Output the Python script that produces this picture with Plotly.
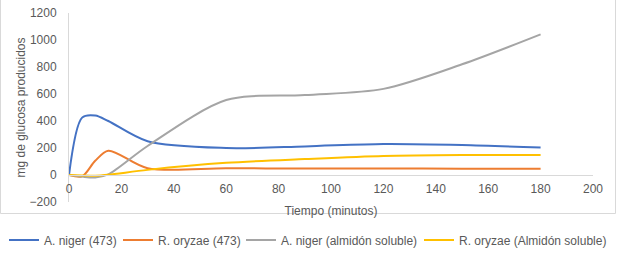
import plotly.graph_objects as go

tiempo = [0, 5, 10, 15, 30, 60, 90, 120, 150, 180]
niger_473 = [0, 425, 440, 400, 250, 200, 212, 230, 222, 203]
oryzae_473 = [0, -10, 105, 180, 50, 50, 48, 48, 47, 47]
niger_almidon = [0, -12, -18, 5, 215, 555, 592, 638, 820, 1042]
oryzae_almidon = [0, -3, -5, 2, 38, 90, 118, 141, 148, 149]

series = [
    ("A. niger (473)", niger_473, "#4472C4"),
    ("R. oryzae (473)", oryzae_473, "#ED7D31"),
    ("A. niger (almidón soluble)", niger_almidon, "#A5A5A5"),
    ("R. oryzae (Almidón soluble)", oryzae_almidon, "#FFC000"),
]

W, H = 617, 257
ml, mr, mt, mb = 69, 24, 13, 55
pw, ph = W - ml - mr, H - mt - mb
ymin, ymax = -200, 1200
zero_pos = (0 - ymin) / (ymax - ymin)

legend_names = ["legend", "legend2", "legend3", "legend4"]
legend_px = [4, 118, 241, 419]  # left edge of each legend box in pixels

fig = go.Figure()
for (name, vals, color), lg in zip(series, legend_names):
    fig.add_trace(go.Scatter(x=tiempo, y=vals, name=name, mode="lines", legend=lg,
                             line=dict(color=color, width=2, shape="spline", smoothing=0.85)))

legend_y = -(240 - mt - ph) / ph
legend_layout = {}
for lg, px in zip(legend_names, legend_px):
    legend_layout[lg] = dict(orientation="h", x=(px - ml) / pw, xanchor="left",
                             y=legend_y, yanchor="middle",
                             font=dict(size=12, color="#595959"), itemwidth=30,
                             bgcolor="rgba(0,0,0,0)", borderwidth=0)

fig.update_layout(
    width=W, height=H,
    margin=dict(l=ml, r=mr, t=mt, b=mb, autoexpand=False),
    paper_bgcolor="white", plot_bgcolor="white",
    font=dict(family="Liberation Sans, Arial, sans-serif", color="#595959", size=12),
    showlegend=True,
    xaxis=dict(range=[0, 200], dtick=20, tick0=0, showgrid=False, zeroline=False,
               showline=True, linecolor="#D9D9D9", linewidth=1,
               anchor="free", position=zero_pos, ticks="", ticklabelstandoff=3,
               tickfont=dict(size=12, color="#595959"),
               title=dict(text="Tiempo (minutos)", font=dict(size=12, color="#595959"), standoff=11)),
    yaxis=dict(range=[ymin, ymax], dtick=200, tick0=0, showgrid=False, zeroline=False,
               showline=True, linecolor="#D9D9D9", linewidth=1, ticks="", ticklabelstandoff=9,
               tickfont=dict(size=12, color="#595959"),
               title=dict(text="mg de glucosa producidos", font=dict(size=12, color="#595959"), standoff=1)),
    shapes=[dict(type="rect", xref="paper", yref="paper",
                 x0=(0.5 - ml) / pw, x1=(615.5 - ml) / pw,
                 y0=(H - mt - 255.5) / ph, y1=(H - mt - 0.5) / ph,
                 line=dict(color="#D9D9D9", width=1), layer="below")],
    **legend_layout,
)

fig.write_html("out.html", config={"displayModeBar": False},
               post_script="document.body.style.margin='0';document.body.style.overflow='hidden';")
